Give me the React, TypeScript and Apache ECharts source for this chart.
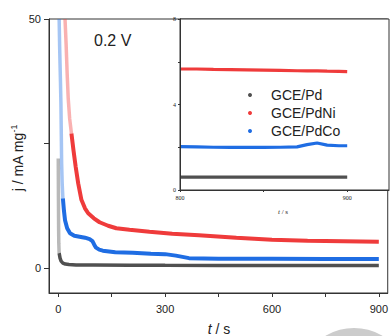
import React, { useEffect, useRef } from "react";
import * as echarts from "echarts";

// Chronoamperometry at 0.2 V: current density j (mA mg^-1) versus time t (s)
const seriesNames = ["GCE/Pd", "GCE/PdNi", "GCE/PdCo"];
const seriesColors = ["#505050", "#ef3b3b", "#1f6de3"];

// Initial fast-decay portions (sparse, faint points)
const pdEarlyT = [0, 0.5, 1, 1.5, 2.5];
const pdEarlyJ = [22, 14, 8, 5, 3];
const pdNiEarlyT = [19, 22, 25, 28, 32, 37];
const pdNiEarlyJ = [50, 45, 39, 34, 30, 27];
const pdCoEarlyT = [2.5, 4, 6, 7.5, 8.5, 9.5, 11, 13];
const pdCoEarlyJ = [50, 44, 38, 33, 27, 21, 17, 14];

// Main decay curves
const pdT = [2.5, 5, 8, 13, 20, 30, 50, 100, 200, 300, 450, 600, 750, 900];
const pdJ = [3, 2, 1.4, 1, 0.8, 0.7, 0.6, 0.6, 0.58, 0.55, 0.53, 0.5, 0.5, 0.5];
const pdNiT = [37, 43, 49, 56, 65, 75, 84, 100, 116, 140, 163, 200, 256, 320, 395, 500, 600, 700, 800, 900];
const pdNiJ = [27, 23.5, 20.3, 17, 13.7, 12, 11, 10, 9.2, 8.5, 8, 7.7, 7.3, 6.9, 6.6, 6.1, 5.7, 5.5, 5.4, 5.3];
const pdCoT = [13, 16, 19, 25, 33, 45, 60, 75, 88, 96, 101, 106, 115, 125, 160, 209, 260, 300, 330, 345, 367, 450, 600, 750, 900];
const pdCoJ = [14, 11.5, 9.6, 8, 7, 6.5, 6.3, 6.1, 5.8, 5.4, 4.7, 4.1, 3.7, 3.5, 3.2, 3.1, 2.9, 2.8, 2.5, 2.3, 2.0, 1.9, 1.85, 1.8, 1.8];

// Inset: 800-900 s close-up
const insetT = [800, 810, 820, 830, 840, 850, 860, 870, 876, 882, 888, 895, 900];
const insetPdJ = [0.6, 0.6, 0.6, 0.6, 0.6, 0.6, 0.6, 0.6, 0.6, 0.6, 0.6, 0.6, 0.6];
const insetPdNiJ = [5.66, 5.66, 5.64, 5.63, 5.62, 5.61, 5.6, 5.58, 5.57, 5.57, 5.56, 5.55, 5.54];
const insetPdCoJ = [2.03, 2.02, 2.0, 1.99, 1.99, 1.99, 2.0, 2.02, 2.12, 2.2, 2.1, 2.07, 2.07];

// Axis ticks and labels
const mainXTicks = [0, 150, 300, 450, 600, 750, 900];
const mainXLabels = [0, 300, 600, 900];
const mainYTicks = [0, 25, 50];
const mainYLabels = [0, 50];
const insetXTicks = [800, 850, 900];
const insetXLabels = [800, 900];
const insetYTicks = [0, 2, 4, 6, 8];
const insetYLabels = [0, 4, 8];

const pairs = (t: number[], j: number[]) => t.map((v, i) => [v, j[i]]);

const AXIS_COLOR = "#333";
const TEXT_COLOR = "#222";

export default function App() {
  const ref = useRef<HTMLDivElement>(null);

  useEffect(() => {
    if (!ref.current) return;
    const chart = echarts.init(ref.current, undefined, { renderer: "svg" });

    const mainLine = (name: string, data: number[][], color: string, width: number, faded = false) => ({
      type: "line",
      name,
      xAxisIndex: 0,
      yAxisIndex: 0,
      data,
      showSymbol: false,
      smooth: false,
      lineStyle: faded
        ? { color, width: 3.5, opacity: 0.4 }
        : { color, width },
      itemStyle: { color },
      z: 3,
    });

    const insetLine = (name: string, data: number[][], color: string) => ({
      type: "line",
      name,
      xAxisIndex: 1,
      yAxisIndex: 1,
      data,
      showSymbol: false,
      lineStyle: { color, width: 3.2 },
      itemStyle: { color },
      z: 5,
    });

    const baseAxis = {
      axisLine: { show: true, onZero: false, lineStyle: { color: AXIS_COLOR, width: 1 } },
      splitLine: { show: false },
    };

    chart.setOption({
      animation: false,
      backgroundColor: "#fff",
      grid: [
        { left: 49, top: 19, width: 340, height: 274, show: true, borderColor: AXIS_COLOR, borderWidth: 1, backgroundColor: "transparent" },
        { left: 180, top: 19, width: 209, height: 171, show: true, borderColor: AXIS_COLOR, borderWidth: 1, backgroundColor: "#fff", z: 4 },
      ],
      xAxis: [
        {
          ...baseAxis,
          type: "value",
          gridIndex: 0,
          min: -26,
          max: 925,
          axisTick: { show: true, length: 4, inside: false, customValues: mainXTicks, lineStyle: { color: AXIS_COLOR } },
          axisLabel: { customValues: mainXLabels, fontSize: 11, color: TEXT_COLOR, margin: 10, fontFamily: "Liberation Sans" },
        },
        {
          ...baseAxis,
          type: "value",
          gridIndex: 1,
          min: 800,
          max: 925,
          z: 6,
          axisTick: { show: true, length: 2, customValues: insetXTicks, lineStyle: { color: AXIS_COLOR } },
          axisLabel: { customValues: insetXLabels, fontSize: 6, color: TEXT_COLOR, margin: 5, fontFamily: "Liberation Serif" },
        },
      ],
      yAxis: [
        {
          ...baseAxis,
          type: "value",
          gridIndex: 0,
          min: -5,
          max: 50,
          axisTick: { show: true, length: 5, customValues: mainYTicks, lineStyle: { color: AXIS_COLOR } },
          axisLabel: { customValues: mainYLabels, fontSize: 11, color: TEXT_COLOR, margin: 8, fontFamily: "Liberation Sans" },
        },
        {
          ...baseAxis,
          type: "value",
          gridIndex: 1,
          min: 0,
          max: 8,
          z: 6,
          axisTick: { show: true, length: 2, customValues: insetYTicks, lineStyle: { color: AXIS_COLOR } },
          axisLabel: { customValues: insetYLabels, fontSize: 6, color: TEXT_COLOR, margin: 4, fontFamily: "Liberation Serif" },
        },
      ],
      legend: {
        orient: "vertical",
        left: 243,
        top: 83,
        itemWidth: 4,
        itemHeight: 4,
        itemGap: 4,
        selectedMode: false,
        data: seriesNames.map((name) => ({ name, icon: "circle" })),
        textStyle: { fontSize: 14, color: TEXT_COLOR, fontFamily: "Liberation Sans", padding: [0, 0, 0, 14] },
        z: 10,
      },
      series: [
        mainLine("pd-early", pairs(pdEarlyT, pdEarlyJ), seriesColors[0], 3, true),
        mainLine(seriesNames[0], pairs(pdT, pdJ), seriesColors[0], 3.5),
        mainLine("pdco-early", pairs(pdCoEarlyT, pdCoEarlyJ), seriesColors[2], 3, true),
        mainLine(seriesNames[2], pairs(pdCoT, pdCoJ), seriesColors[2], 4),
        mainLine("pdni-early", pairs(pdNiEarlyT, pdNiEarlyJ), seriesColors[1], 3, true),
        mainLine(seriesNames[1], pairs(pdNiT, pdNiJ), seriesColors[1], 4),
        insetLine(seriesNames[0], pairs(insetT, insetPdJ), seriesColors[0]),
        insetLine(seriesNames[1], pairs(insetT, insetPdNiJ), seriesColors[1]),
        insetLine(seriesNames[2], pairs(insetT, insetPdCoJ), seriesColors[2]),
      ],
      graphic: [
        {
          type: "circle",
          shape: { cx: 354, cy: 383, r: 55 },
          style: { fill: "#cccccc" },
          z: 0,
        },
        {
          type: "text",
          left: 94,
          top: 32,
          style: { text: "0.2 V", fontSize: 16, fill: TEXT_COLOR, fontFamily: "Liberation Sans" },
          z: 10,
        },
        {
          type: "text",
          x: 219,
          y: 329,
          style: {
            text: "{i|t} / s",
            fontSize: 14,
            fill: TEXT_COLOR,
            fontFamily: "Liberation Sans",
            align: "center",
            verticalAlign: "middle",
            rich: { i: { fontStyle: "italic", fontSize: 14, fontFamily: "Liberation Sans", fill: TEXT_COLOR } },
          },
          z: 10,
        },
        {
          type: "text",
          x: 18,
          y: 158,
          rotation: Math.PI / 2,
          style: {
            text: "{a|j / mA mg}{s|-1}",
            fill: TEXT_COLOR,
            align: "center",
            verticalAlign: "middle",
            rich: {
              a: { fontSize: 14, lineHeight: 18, verticalAlign: "middle", fontFamily: "Liberation Sans", fill: TEXT_COLOR },
              s: { fontSize: 9, lineHeight: 18, verticalAlign: "top", fontFamily: "Liberation Sans", fill: TEXT_COLOR },
            },
          },
          z: 10,
        },
        {
          type: "text",
          x: 283,
          y: 212,
          style: {
            text: "{i|t} / s",
            fontSize: 7,
            fill: TEXT_COLOR,
            fontFamily: "Liberation Serif",
            align: "center",
            verticalAlign: "middle",
            rich: { i: { fontStyle: "italic", fontSize: 7, fontFamily: "Liberation Serif", fill: TEXT_COLOR } },
          },
          z: 10,
        },
      ],
    });

    return () => chart.dispose();
  }, []);

  return (
    <div
      ref={ref}
      style={{ position: "fixed", left: 0, top: 0, width: 391, height: 336 }}
    />
  );
}
